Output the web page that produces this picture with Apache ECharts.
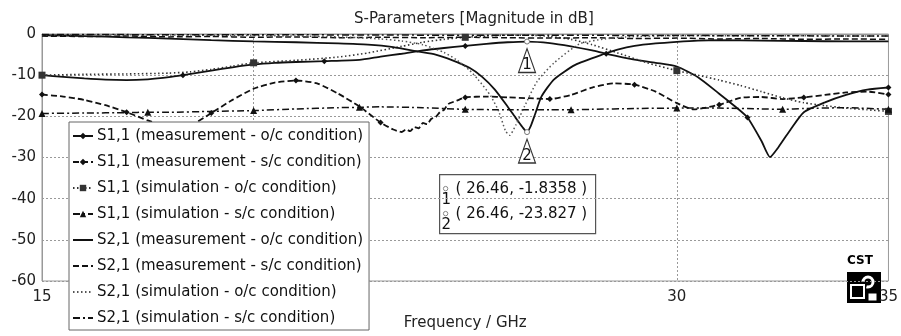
<!DOCTYPE html>
<html>
<head>
<meta charset="utf-8">
<script src="https://cdn.jsdelivr.net/npm/echarts/dist/echarts.min.js"></script>
<style>
html, body { margin: 0; padding: 0; background: #fff; }
#sparChart { width: 901px; height: 336px; }
</style>
</head>
<body>
<div id="sparChart"></div>
<script>
// series names (legend order)
var seriesNames = [
	"S1,1 (measurement - o/c condition)",
	"S1,1 (measurement - s/c condition)",
	"S1,1 (simulation - o/c condition)",
	"S1,1 (simulation - s/c condition)",
	"S2,1 (measurement - o/c condition)",
	"S2,1 (measurement - s/c condition)",
	"S2,1 (simulation - o/c condition)",
	"S2,1 (simulation - s/c condition)"
];

// x axis labels / grid lines (GHz)
var xLabels = [15, 20, 30, 35];
var xGridLines = [20, 30];

// S1,1 measurement o/c
var freqS11MeasOc = [15, 15.5, 16, 16.5, 17, 17.5, 18, 18.33, 19, 19.5, 20, 20.5, 21, 21.67, 22.5, 23, 23.5, 24, 24.5, 25, 25.5, 26, 26.46, 27, 27.5, 28, 28.33, 29, 29.5, 30, 30.5, 31, 31.4, 31.67, 32, 32.2, 32.4, 32.7, 33, 33.5, 34, 34.5, 35];
var dbS11MeasOc = [-10, -10.4, -10.8, -11.1, -11.2, -11, -10.5, -10, -8.9, -8.1, -7.4, -7.0, -6.8, -6.6, -6.3, -5.5, -4.8, -4.0, -3.4, -2.9, -2.4, -2.0, -1.8358, -2.2, -3.0, -4.0, -4.8, -6.2, -7.0, -7.9, -10.5, -14.5, -17.8, -20.3, -26, -29.9, -27.5, -23, -19, -16.6, -14.8, -13.5, -13];
var markS11MeasOc = [15, 18.33, 21.67, 25, 28.33, 31.67, 35];

// S1,1 measurement s/c
var freqS11MeasSc = [15, 15.5, 16, 16.5, 17, 17.5, 18, 18.5, 19, 19.5, 20, 20.5, 21, 21.5, 22, 22.5, 23, 23.3, 23.5, 23.6, 23.7, 23.8, 23.9, 24, 24.1, 24.2, 24.3, 24.4, 24.5, 24.6, 24.8, 25, 25.5, 26, 26.5, 27, 27.5, 28, 28.5, 29, 29.5, 30, 30.4, 31, 31.5, 32, 32.5, 33, 33.5, 34, 34.5, 35];
var dbS11MeasSc = [-14.7, -15.2, -16.0, -17.3, -19, -21, -22.5, -22.2, -19.2, -16, -13.3, -11.8, -11.3, -12, -14.5, -17.6, -21.5, -23.2, -23.8, -23.2, -23.6, -22.6, -22.9, -21.6, -21.9, -20.6, -20.2, -19.0, -18.4, -17.0, -16.2, -15.4, -15.2, -15.4, -15.6, -15.8, -14.8, -13, -12, -12.3, -14, -16.8, -18.3, -17.2, -15.5, -15.3, -15.8, -15.4, -14.8, -14.2, -14.0, -14.7];
var markS11MeasSc = [15, 17, 19, 21, 23, 25, 27, 29, 31, 33, 35];

// S1,1 simulation o/c
var freqS11SimOc = [15, 16, 17, 18, 18.5, 19, 19.5, 20, 21, 22, 22.7, 23.5, 24, 24.5, 25, 25.5, 26, 26.5, 27, 27.5, 28, 28.6, 29.3, 30, 30.5, 31, 31.5, 32, 32.5, 33, 33.5, 34, 34.5, 35];
var dbS11SimOc = [-10, -9.8, -9.7, -9.5, -9.2, -8.6, -7.8, -7.0, -6.4, -5.6, -4.6, -3.0, -2.0, -1.3, -0.8, -0.5, -0.3, -0.3, -0.6, -1.3, -2.6, -4.6, -7.0, -8.9, -10.0, -11.2, -12.5, -14.0, -15.5, -16.7, -17.4, -18.0, -18.4, -18.8];
var markS11SimOc = [15, 20, 25, 30, 35];

// S1,1 simulation s/c
var freqS11SimSc = [15, 16, 17, 17.5, 18, 19, 20, 21, 22, 22.5, 23, 24, 25, 26, 27, 27.5, 28, 29, 30, 31, 32, 32.5, 33, 34, 35];
var dbS11SimSc = [-19.3, -19.2, -19.1, -19.0, -19.0, -18.8, -18.6, -18.2, -17.9, -17.8, -17.7, -17.9, -18.3, -18.4, -18.4, -18.4, -18.3, -18.1, -18.0, -18.0, -18.2, -18.3, -18.1, -17.9, -18.3];
var markS11SimSc = [15, 17.5, 20, 22.5, 25, 27.5, 30, 32.5, 35];

// S2,1 measurement o/c
var freqS21MeasOc = [15, 16, 17, 18, 19, 20, 21, 22, 22.7, 23.3, 23.9, 24.3, 24.7, 25.1, 25.4, 25.7, 26.0, 26.2, 26.35, 26.46, 26.55, 26.65, 26.8, 27.1, 27.6, 28.3, 28.6, 29, 29.5, 30, 30.5, 31, 32, 33, 34, 35];
var dbS21MeasOc = [-0.3, -0.5, -0.8, -1.1, -1.5, -1.8, -2.0, -2.3, -2.6, -3.2, -4.3, -5.0, -6.4, -8.2, -10.4, -13.5, -17.6, -20.5, -22.6, -23.827, -22.3, -19.5, -15.2, -11, -7.5, -4.8, -3.8, -2.9, -2.3, -1.9, -1.6, -1.5, -1.6, -1.7, -1.8, -1.8];

// S2,1 measurement s/c
var freqS21MeasSc = [15, 16, 17, 18, 19, 20, 21, 22, 23, 24, 25, 26, 27, 28, 29, 30, 31, 32, 33, 34, 35];
var dbS21MeasSc = [-0.5, -0.6, -0.5, -0.7, -0.6, -0.8, -0.7, -0.9, -0.8, -0.9, -0.8, -0.9, -1.0, -0.9, -1.1, -1.0, -1.2, -1.1, -1.3, -1.2, -1.3];

// S2,1 simulation o/c
var freqS21SimOc = [15, 17, 19, 21, 22, 23, 23.5, 24, 24.5, 24.8, 25.1, 25.3, 25.6, 25.8, 25.95, 26.05, 26.2, 26.4, 26.7, 27.1, 27.7, 28.3, 28.8, 30, 32, 35];
var dbS21SimOc = [-0.2, -0.2, -0.3, -0.5, -0.7, -1.2, -1.7, -2.6, -4.5, -6.3, -8.8, -11, -15, -19, -23.5, -24.6, -22, -17.6, -11.5, -7, -2.4, -1.2, -0.7, -0.4, -0.4, -0.5];

// S2,1 simulation s/c
var freqS21SimSc = [15, 17, 19, 21, 23, 25, 27, 29, 31, 33, 35];
var dbS21SimSc = [-0.1, -0.15, -0.2, -0.2, -0.25, -0.3, -0.3, -0.35, -0.4, -0.45, -0.5];

// markers 1 and 2
var markerFreq = 26.46;
var markerDb = [-1.8358, -23.827];

var fontName = "DejaVu Sans";
var ink = "#111";

function pairs(f, d) {
	var out = [];
	for (var i = 0; i < f.length; i++) {
		out.push([f[i], d[i]]);
	}
	return out;
}

function makeLine(idx, f, d, dash, width, color, symbol, size, marks) {
	var s = {
		name: seriesNames[idx],
		type: "line",
		data: pairs(f, d),
		smooth: 0.2,
		z: 3,
		symbol: symbol || "none",
		symbolSize: function(v) {
			if (marks && marks.indexOf(v[0]) >= 0) return size;
			return 0;
		},
		showSymbol: !!symbol,
		itemStyle: { color: color, borderWidth: 0 },
		lineStyle: { color: color, width: width, type: dash },
		emphasis: { disabled: true }
	};
	return s;
}

var dashed = [6, 3];
var dotted = [1.5, 2.5];
var dashDot = [7, 3, 2, 3];

var seriesList = [];
seriesList.push(makeLine(0, freqS11MeasOc, dbS11MeasOc, "solid", 1.8, ink, "diamond", 6, markS11MeasOc));
seriesList.push(makeLine(1, freqS11MeasSc, dbS11MeasSc, dashed, 1.8, ink, "diamond", 6, markS11MeasSc));
seriesList.push(makeLine(2, freqS11SimOc, dbS11SimOc, dotted, 1.6, "#333", "rect", 7, markS11SimOc));
seriesList.push(makeLine(3, freqS11SimSc, dbS11SimSc, dashDot, 1.5, ink, "triangle", 7, markS11SimSc));
seriesList.push(makeLine(4, freqS21MeasOc, dbS21MeasOc, "solid", 1.8, ink));
seriesList.push(makeLine(5, freqS21MeasSc, dbS21MeasSc, dashed, 1.5, ink));
seriesList.push(makeLine(6, freqS21SimOc, dbS21SimOc, dotted, 1.5, "#555"));
seriesList.push(makeLine(7, freqS21SimSc, dbS21SimSc, dashDot, 1.5, ink));

// marker points with numbered triangles
function markerPoints(num, db) {
	return {
		silent: true,
		animation: false,
		data: [
			{ coord: [markerFreq, db], symbol: "circle", symbolSize: 5,
			  itemStyle: { color: "#fff", borderColor: "#777", borderWidth: 1 }, label: { show: false } },
			{ coord: [markerFreq, db], symbol: "triangle", symbolSize: [17, 24], symbolOffset: [0, 19],
			  itemStyle: { color: "#fff", borderColor: "#333", borderWidth: 1.2 },
			  label: { show: true, formatter: String(num), position: "inside", offset: [0, 5],
			           color: ink, fontSize: 15, fontFamily: fontName } }
		]
	};
}
seriesList[0].markPoint = markerPoints(1, markerDb[0]);
seriesList[4].markPoint = markerPoints(2, markerDb[1]);

var legendData = [];
for (var i = 0; i < seriesNames.length; i++) {
	if (i < 4) {
		legendData.push({ name: seriesNames[i] });
	} else {
		legendData.push({ name: seriesNames[i], itemStyle: { opacity: 0 } });
	}
}

var option = {
	backgroundColor: "#fff",
	animation: false,
	textStyle: { fontFamily: fontName },
	title: {
		text: "S-Parameters [Magnitude in dB]",
		left: 349,
		top: 7,
		textStyle: { fontSize: 15, fontWeight: "normal", color: "#222", fontFamily: fontName }
	},
	grid: {
		left: 42, right: 8, top: 34, bottom: 53,
		show: true, borderColor: "#999", borderWidth: 1
	},
	legend: {
		orient: "vertical",
		left: 69,
		top: 122,
		data: legendData,
		itemWidth: 20,
		itemHeight: 8,
		itemGap: 10,
		padding: [6, 6, 4, 3],
		backgroundColor: "#fff",
		borderColor: "#666",
		borderWidth: 1,
		selectedMode: false,
		z: 6,
		textStyle: { fontSize: 15, lineHeight: 16, color: ink, fontFamily: fontName, padding: [0, 0, 0, -1] }
	},
	xAxis: {
		type: "value",
		min: 15,
		max: 35,
		name: "Frequency / GHz",
		nameLocation: "middle",
		nameGap: 35,
		nameTextStyle: { fontSize: 15, color: "#222", fontFamily: fontName },
		axisLine: { lineStyle: { color: "#999" } },
		axisTick: { show: false, customValues: xGridLines },
		axisLabel: { customValues: xLabels, fontSize: 15, color: "#222", margin: 9, fontFamily: fontName },
		splitLine: { show: true, lineStyle: { color: "#999", type: [2, 2] } }
	},
	yAxis: {
		type: "value",
		min: -60,
		max: 0,
		interval: 10,
		axisLine: { show: true, lineStyle: { color: "#999" } },
		axisTick: { show: false },
		axisLabel: { fontSize: 15, color: "#222", margin: 6, fontFamily: fontName },
		splitLine: { show: true, lineStyle: { color: "#999", type: [2, 2] } }
	},
	graphic: [
		{
			type: "group", left: 439, top: 174, z: 10,
			children: [
				{ type: "rect", shape: { x: 0, y: 0, width: 156, height: 59 },
				  style: { fill: "#fff", stroke: "#555", lineWidth: 1.2 } },
				{ type: "circle", shape: { cx: 6, cy: 14, r: 2.2 }, style: { fill: "#fff", stroke: "#888", lineWidth: 1 } },
				{ type: "text", x: 2, y: 18, style: { text: "1", fontSize: 15, fill: ink, fontFamily: fontName } },
				{ type: "text", x: 16, y: 7, style: { text: "( " + markerFreq.toFixed(2) + ", " + markerDb[0] + " )", fontSize: 15, fill: ink, fontFamily: fontName } },
				{ type: "circle", shape: { cx: 6, cy: 39, r: 2.2 }, style: { fill: "#fff", stroke: "#888", lineWidth: 1 } },
				{ type: "text", x: 2, y: 43, style: { text: "2", fontSize: 15, fill: ink, fontFamily: fontName } },
				{ type: "text", x: 16, y: 32, style: { text: "( " + markerFreq.toFixed(2) + ", " + markerDb[1] + " )", fontSize: 15, fill: ink, fontFamily: fontName } }
			]
		},
		{
			// CST logo
			type: "group", left: 847, top: 255, z: 10,
			children: [
				{ type: "text", x: 1, y: 0, style: { text: "CST", fontSize: 12, fontWeight: "bold", fill: "#000", fontFamily: fontName } },
				{ type: "rect", shape: { x: 1, y: 17, width: 34, height: 31 }, style: { fill: "#000" } },
				{ type: "rect", shape: { x: 5, y: 30, width: 13, height: 13 }, style: { fill: "none", stroke: "#fff", lineWidth: 2 } },
				{ type: "arc", shape: { cx: 22, cy: 27, r: 5, startAngle: Math.PI, endAngle: Math.PI * 2.6 }, style: { fill: "none", stroke: "#fff", lineWidth: 3 } },
				{ type: "rect", shape: { x: 22, y: 38, width: 9, height: 8 }, style: { fill: "#fff", stroke: "#000", lineWidth: 1 } }
			]
		}
	],
	series: seriesList
};

var sparChart = echarts.init(document.getElementById("sparChart"));
sparChart.setOption(option);
</script>
</body>
</html>
